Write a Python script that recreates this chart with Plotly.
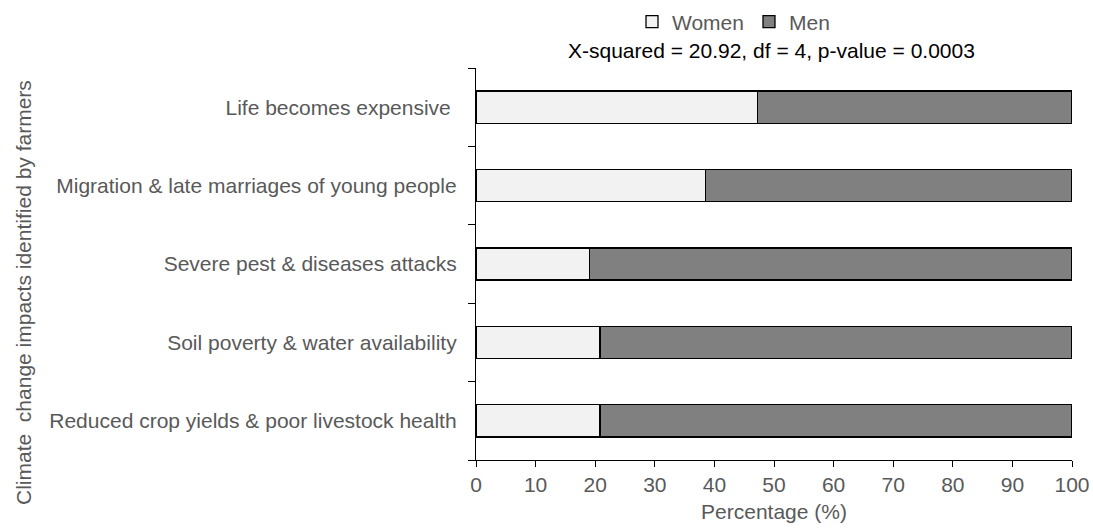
import plotly.graph_objects as go

categories = [
    "Reduced crop yields & poor livestock health",
    "Soil poverty & water availability",
    "Severe pest & diseases attacks",
    "Migration & late marriages of young people",
    "Life becomes expensive ",
]
women = [20.8, 20.8, 19.1, 38.5, 47.2]
men = [100 - w for w in women]
x_ticks = list(range(0, 101, 10))

FONT = "Liberation Sans, Arial, sans-serif"
GREY = "#595959"
FS = 21

W, H = 1093, 530
L, R, T, B = 476, 21, 68, 70
plot_w = W - L - R
plot_h = H - T - B

fig = go.Figure()
fig.add_trace(go.Bar(
    y=categories, x=women, name="Women", orientation="h",
    marker=dict(color="#f2f2f2", line=dict(color="black", width=1.3)),
    width=0.41,
))
fig.add_trace(go.Bar(
    y=categories, x=men, name="Men", orientation="h",
    marker=dict(color="#808080", line=dict(color="black", width=1.3)),
    width=0.41,
))

fig.update_layout(
    barmode="stack",
    width=W, height=H,
    margin=dict(l=L, r=R, t=T, b=B, autoexpand=False),
    plot_bgcolor="white", paper_bgcolor="white",
    font=dict(family=FONT, size=FS, color=GREY),
    legend=dict(
        orientation="h", traceorder="normal",
        x=(632 - L) / plot_w, y=1 + 46 / plot_h, xref="paper", yref="paper",
        xanchor="left", yanchor="middle",
        font=dict(size=FS, color=GREY),
        itemwidth=30,
    ),
    xaxis=dict(
        range=[0, 100], tickvals=x_ticks, ticks="outside", ticklen=6,
        tickcolor="black", showline=True, linecolor="black", linewidth=1.3,
        showgrid=False, zeroline=False, ticklabeloverflow="allow",
        title=dict(text="Percentage (%)", standoff=8, font=dict(size=FS, color=GREY)),
        tickfont=dict(size=FS, color=GREY),
    ),
    yaxis=dict(
        type="category", categoryorder="array", categoryarray=categories,
        ticks="outside", tickson="boundaries", ticklen=7, tickcolor="black",
        showline=True, linecolor="black", linewidth=1.3, showgrid=False,
        tickfont=dict(size=FS, color=GREY),
        ticklabelstandoff=14,
    ),
    annotations=[
        dict(text="X-squared = 20.92, df = 4, p-value = 0.0003",
             x=(771.5 - L) / plot_w, y=1.0, xref="paper", yref="paper",
             xanchor="center", yanchor="middle",
             yshift=18, showarrow=False, font=dict(size=FS, color="black")),
        dict(text="Climate  change impacts identified by farmers",
             x=(23 - L) / plot_w, y=(H - B - 293) / plot_h, xref="paper", yref="paper",
             xanchor="center", yanchor="middle",
             showarrow=False, textangle=-90,
             font=dict(size=FS, color=GREY)),
    ],
)

fig.write_html(
    "out.html",
    config={"displayModeBar": False},
    post_script="document.body.style.margin='0';document.body.style.overflow='hidden';",
)
